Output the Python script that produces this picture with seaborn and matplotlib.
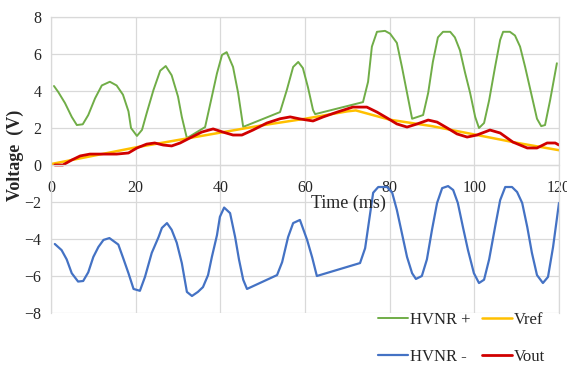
import matplotlib
matplotlib.use("Agg")
import matplotlib.pyplot as plt
import seaborn as sns
import pandas as pd

# values (time in ms, voltage in V)
t_pos = [0.7, 1.7, 3.3, 4.9, 6.1, 7.5, 8.8, 10.4, 12.0, 13.9, 15.5, 17.0, 18.3, 18.9,
         20.3, 21.5, 22.6, 24.2, 25.8, 27.1, 28.5, 30.0, 30.9, 32.1, 36.4, 38.0, 39.2,
         40.4, 41.5, 43.0, 44.2, 45.4, 54.1, 55.7, 57.2, 58.4, 59.5, 60.7, 61.9, 62.4,
         73.7, 74.9, 75.8, 77.0, 78.9, 80.1, 81.7, 82.9, 84.1, 85.3, 87.9, 89.1, 90.2,
         91.4, 92.6, 94.3, 95.4, 96.6, 97.8, 99.0, 100.2, 101.1, 102.3, 103.5, 104.9,
         106.1, 106.8, 108.4, 109.6, 110.8, 112.0, 113.6, 114.8, 115.8, 116.7, 117.9, 119.5]
v_pos = [4.27, 3.95, 3.35, 2.6, 2.16, 2.2, 2.7, 3.6, 4.3, 4.5, 4.3, 3.8, 2.9, 2.0,
         1.57, 1.9, 2.8, 4.05, 5.1, 5.35, 4.85, 3.7, 2.6, 1.45, 2.05, 3.7, 4.95,
         5.95, 6.1, 5.3, 3.9, 2.06, 2.86, 4.05, 5.3, 5.57, 5.24, 4.2, 2.97, 2.75,
         3.4, 4.5, 6.4, 7.2, 7.25, 7.1, 6.6, 5.3, 3.9, 2.5, 2.7, 3.9, 5.57,
         6.9, 7.2, 7.2, 6.9, 6.2, 5.0, 3.9, 2.6, 2.0, 2.27, 3.5, 5.3,
         6.76, 7.2, 7.2, 7.0, 6.4, 5.3, 3.7, 2.5, 2.1, 2.16, 3.5, 5.5]

t_neg = [0.9, 2.5, 3.7, 4.9, 6.4, 7.6, 8.8, 10.0, 11.2, 12.4, 13.8, 15.9, 17.0, 18.3,
         19.5, 21.0, 22.2, 23.8, 25.4, 26.2, 27.4, 28.5, 29.7, 30.9, 32.1, 33.3, 34.7,
         35.9, 37.1, 38.0, 39.2, 39.9, 40.9, 42.3, 43.5, 44.4, 45.4, 46.3, 53.4, 54.6,
         56.0, 57.2, 58.8, 60.5, 61.7, 62.8, 73.0, 74.2, 75.4, 76.1, 77.3, 79.4, 80.6,
         81.7, 82.9, 84.1, 85.3, 86.2, 87.6, 88.8, 90.0, 91.2, 92.4, 93.8, 95.0, 96.1,
         97.3, 98.5, 99.9, 101.1, 102.3, 103.5, 104.9, 106.1, 107.3, 108.9, 110.1,
         111.3, 112.5, 113.6, 114.8, 116.2, 117.4, 118.6, 120.0]
v_neg = [-4.27, -4.6, -5.1, -5.85, -6.3, -6.27, -5.8, -4.97, -4.43, -4.05, -3.95, -4.3, -5.0, -5.85,
         -6.7, -6.8, -6.05, -4.75, -3.9, -3.4, -3.14, -3.5, -4.2, -5.3, -6.86, -7.08, -6.86,
         -6.6, -5.95, -4.97, -3.8, -2.8, -2.3, -2.6, -3.9, -5.1, -6.2, -6.7, -5.95, -5.25,
         -3.9, -3.14, -2.97, -4.05, -5.0, -6.0, -5.3, -4.5, -2.6, -1.5, -1.19, -1.19, -1.5,
         -2.43, -3.7, -4.97, -5.85, -6.16, -6.0, -5.1, -3.5, -2.05, -1.25, -1.14, -1.35, -2.05,
         -3.35, -4.6, -5.85, -6.38, -6.2, -5.1, -3.35, -1.9, -1.19, -1.19, -1.46,
         -2.05, -3.35, -4.75, -5.95, -6.38, -6.05, -4.43, -2.05]

t_ref = [0, 10, 20, 30, 40, 50, 60, 70, 72, 80, 90, 100, 110, 120]
v_ref = [0.05, 0.5, 0.95, 1.35, 1.75, 2.15, 2.5, 2.9, 2.95, 2.45, 2.1, 1.65, 1.2, 0.8]

t_out = [0.9, 2.8, 4.9, 6.9, 9.2, 12.4, 15.5, 18.3, 20.3, 22.6, 24.5, 26.5, 28.5, 30.5,
         32.8, 35.6, 38.3, 40.6, 43.0, 45.1, 47.7, 51.0, 54.1, 56.5, 58.8, 61.9, 64.3,
         67.6, 71.3, 74.6, 77.0, 79.4, 81.7, 84.1, 86.5, 89.1, 91.2, 93.6, 95.9, 98.3,
         100.6, 103.7, 106.1, 109.1, 112.5, 114.8, 117.2, 119.1, 120.0]
v_out = [0.0, 0.0, 0.27, 0.49, 0.59, 0.59, 0.59, 0.65, 0.92, 1.13, 1.19, 1.08, 1.03, 1.19,
         1.46, 1.78, 1.95, 1.78, 1.62, 1.62, 1.89, 2.27, 2.5, 2.6, 2.49, 2.38, 2.6,
         2.86, 3.13, 3.13, 2.86, 2.54, 2.22, 2.05, 2.22, 2.43, 2.32, 2.0, 1.68, 1.51,
         1.62, 1.89, 1.73, 1.24, 0.92, 0.92, 1.19, 1.19, 1.08]

sns.set_style("whitegrid")
plt.rcParams["font.family"] = ["Liberation Serif", "DejaVu Serif"]

fig = plt.figure(figsize=(5.67, 3.67), dpi=100)
ax = fig.add_axes([51 / 567, 1 - 313 / 367, 508 / 567, 296 / 367])

grid_c = "#D9D9D9"
sns.lineplot(x=t_pos, y=v_pos, sort=False, color="#70AD47", lw=1.4, ax=ax, label="HVNR +")
sns.lineplot(x=t_neg, y=v_neg, sort=False, color="#4472C4", lw=1.6, ax=ax, label="HVNR -")
sns.lineplot(x=t_ref, y=v_ref, sort=False, color="#FFC000", lw=1.8, ax=ax, label="Vref")
sns.lineplot(x=t_out, y=v_out, sort=False, color="#D00000", lw=2.0, ax=ax, label="Vout")

ax.set_xlim(0, 120)
ax.set_ylim(-8, 8)
ax.set_xticks(range(0, 121, 20))
ax.set_yticks(range(-8, 9, 2))
ax.grid(True, color=grid_c, lw=0.9)
for side in ["left", "right", "top", "bottom"]:
    ax.spines[side].set_color(grid_c)
    ax.spines[side].set_linewidth(0.9)
ax.spines["bottom"].set_position(("data", 0))
ax.tick_params(axis="x", length=0, pad=11, labelsize=11.5)
ax.tick_params(axis="y", length=0, pad=7, labelsize=11.5)
for lab in ax.get_xticklabels():
    lab.set_clip_on(False)

ax.set_xlabel("")
ax.set_ylabel("")
ax.text(61.5, -2.05, "Time (ms)", fontsize=13, ha="left", va="center")
fig.text(15 / 567, 1 - 155 / 367, "Voltage  (V)", rotation=90, fontsize=13,
         fontweight="bold", ha="center", va="center")

handles, labels = ax.get_legend_handles_labels()
ax.get_legend().remove()
fig.legend(handles, labels, ncol=2, loc="upper left",
           bbox_to_anchor=(378 / 567, 1 - 312 / 367), frameon=False,
           fontsize=12, handlelength=1.8, handletextpad=0.1,
           columnspacing=0.7, labelspacing=1.25, borderpad=0, borderaxespad=0)

fig.savefig("out.png", dpi=100)
